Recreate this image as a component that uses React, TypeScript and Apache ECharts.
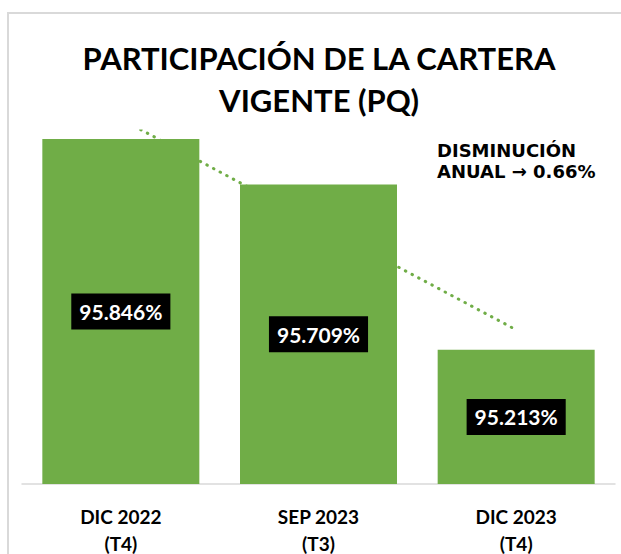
import React, { useEffect, useRef } from "react";
import * as echarts from "echarts";

const categories = ["DIC 2022\n(T4)", "SEP 2023\n(T3)", "DIC 2023\n(T4)"];
const values = [95.846, 95.709, 95.213];
const trendValues = [95.906, 95.589, 95.273];
const titleLines = ["PARTICIPACIÓN DE LA CARTERA", "VIGENTE (PQ)"];
const noteLines = ["DISMINUCIÓN", "ANUAL → 0.66%"];

export default function App() {
  const ref = useRef<HTMLDivElement>(null);
  useEffect(() => {
    if (!ref.current) return;
    const chart = echarts.init(ref.current, undefined, { renderer: "svg" });
    const green = "#70AD47";
    const titleStyle = {
      fill: "#000",
      fontFamily: "Lato",
      fontWeight: "bold",
      fontSize: 31,
      textAlign: "center",
      textVerticalAlign: "middle",
    };
    const noteStyle = {
      fill: "#000",
      fontFamily: "DejaVu Sans",
      fontWeight: "bold",
      fontSize: 18,
      textAlign: "left",
      textVerticalAlign: "middle",
    };
    chart.setOption({
      animation: false,
      backgroundColor: "#fff",
      grid: {
        left: 22,
        right: 6,
        top: 131,
        bottom: 70,
        containLabel: false,
        outerBoundsMode: "none",
      },
      xAxis: {
        type: "category",
        data: categories,
        axisLine: { show: true, lineStyle: { color: "#d9d9d9", width: 1.5 } },
        axisTick: { show: false },
        axisLabel: {
          color: "#000",
          fontFamily: "Lato",
          fontWeight: "bold",
          fontSize: 19,
          lineHeight: 27,
          margin: 19,
        },
      },
      yAxis: {
        type: "value",
        min: 94.81,
        max: 95.87,
        show: false,
        splitLine: { show: false },
      },
      series: [
        {
          type: "line",
          data: trendValues,
          z: 1,
          symbol: "none",
          lineStyle: { color: green, width: 3, type: [0.5, 7], cap: "round" },
        },
        {
          type: "bar",
          data: values,
          z: 2,
          barWidth: 157,
          itemStyle: { color: green },
          label: {
            show: true,
            position: "inside",
            formatter: (p: any) => p.value.toFixed(3) + "%",
            color: "#fff",
            backgroundColor: "#000",
            fontFamily: "Lato",
            fontWeight: "bold",
            fontSize: 21,
            padding: [8, 8, 7, 8],
          },
        },
      ],
      graphic: [
        {
          type: "rect",
          shape: { x: 8, y: 13, width: 700, height: 700 },
          style: { fill: "none", stroke: "#d9d9d9", lineWidth: 2 },
          z: 0,
          silent: true,
        },
        { type: "text", x: 319, y: 58, style: { ...titleStyle, text: titleLines[0] } },
        { type: "text", x: 319, y: 100, style: { ...titleStyle, text: titleLines[1] } },
        { type: "text", x: 437, y: 150, style: { ...noteStyle, text: noteLines[0] } },
        { type: "text", x: 437, y: 171, style: { ...noteStyle, text: noteLines[1] } },
      ],
    });
    return () => chart.dispose();
  }, []);
  return (
    <div
      ref={ref}
      style={{ position: "fixed", left: 0, top: 0, width: 621, height: 554 }}
    />
  );
}
